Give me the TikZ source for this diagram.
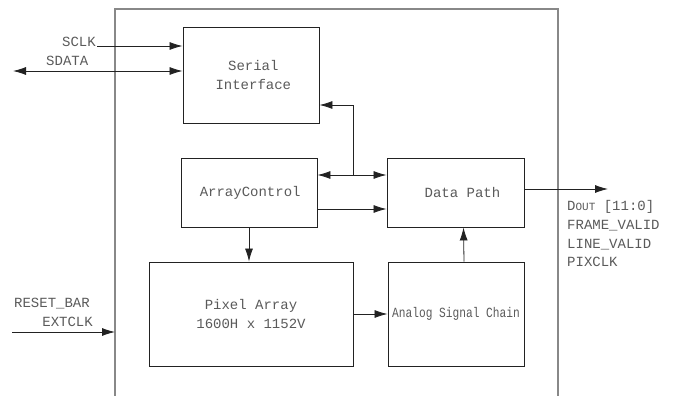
\documentclass[tikz,border=0pt]{standalone}
\usepackage{fontspec}
\newfontfamily\cour{Liberation Mono}
\usetikzlibrary{arrows.meta}
\definecolor{txt}{HTML}{5A5A5A}
\definecolor{frm}{HTML}{888888}
\definecolor{ln}{HTML}{222222}
\begin{document}
\begin{tikzpicture}[x=1pt,y=-1pt,
  blk/.style={draw=ln,line width=0.9pt,inner sep=0pt,align=center,font=\cour\fontsize{14}{19}\selectfont,text=txt},
  lbl/.style={inner sep=0pt,font=\cour\fontsize{14}{19}\selectfont,text=txt},
  arr/.style={draw=ln,line width=0.8pt,-{Latex[length=13pt,width=8pt]}},
  darr/.style={draw=ln,line width=0.8pt,{Latex[length=13pt,width=8pt]}-{Latex[length=13pt,width=8pt]}},
  frame/.style={draw=frm,line width=1.5pt}]
\useasboundingbox (0,0) rectangle (686,396);
% outer frame
\draw[frame] (115,396) -- (115,9) -- (558,9) -- (558,396);
% blocks
\node[blk,minimum width=136pt,minimum height=96pt] (si) at (251,75) {\,\,Serial\\\,\,Interface};
\node[blk,minimum width=136pt,minimum height=69pt] (ac) at (249,192.5) {\,ArrayControl};
\node[blk,minimum width=137pt,minimum height=69pt] (dp) at (455.5,192.5) {\quad Data Path};
\node[blk,minimum width=204pt,minimum height=104pt] (pa) at (251,314) {Pixel Array\\1600H x 1152V};
\node[blk,minimum width=136pt,minimum height=104pt] (as) at (456,314) {\scalebox{0.8}[1]{Analog Signal Chain}};
% labels
\node[lbl,anchor=base east] (sclk) at (96,47) {SCLK};
\node[lbl,anchor=base west] (sdata) at (46,66) {SDATA};
\node[lbl,anchor=base west] (rst) at (14,307) {RESET\_BAR};
\node[lbl,anchor=base east] (ext) at (93,326) {EXTCLK};
\node[lbl,anchor=base west] (dout) at (567,210) {D{\fontsize{11}{13}\selectfont OUT} [11:0]};
\node[lbl,anchor=base west] (fv) at (567,229) {FRAME\_VALID};
\node[lbl,anchor=base west] (lv) at (567,248) {LINE\_VALID};
\node[lbl,anchor=base west] (pc) at (567,266) {PIXCLK};
% coordinates
\coordinate (sclkS) at (97,46);
\coordinate (sdL) at (13,71);
\coordinate (j) at (353,175);
\coordinate (jt) at (353,105);
\coordinate (y2) at (0,209);
\coordinate (out) at (608,189);
\coordinate (extS) at (12,332);
\coordinate (extE) at (115,332);
% connectors
\draw[arr] (sclkS) -- (sclkS -| si.west);
\draw[darr] (sdL) -- (sdL -| si.west);
\draw[darr] (j -| ac.east) -- (j -| dp.west);
\draw[arr] (j) -- (jt) -- (jt -| si.east);
\draw[arr] (y2 -| ac.east) -- (y2 -| dp.west);
\draw[arr] (ac.south) -- (ac.south |- pa.north);
\draw[arr] (pa.east) -- (as.west);
\draw[arr] ([xshift=8pt]as.north) -- ([xshift=8pt]dp.south);
\draw[arr] (out -| dp.east) -- (out);
\draw[arr] (extS) -- (extE);
\end{tikzpicture}
\end{document}
